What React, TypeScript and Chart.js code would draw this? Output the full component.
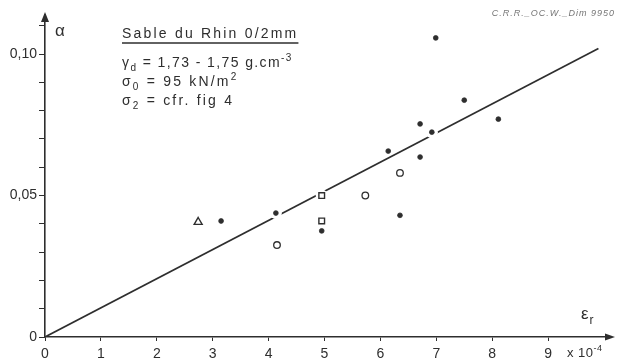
import React, { useEffect, useRef } from 'react';
import { Chart, registerables } from 'chart.js';

Chart.register(...registerables);

// Strain ε_r (×10⁻⁴) and damping α for Rhine sand 0/2 mm
const starX = [3.15, 4.13, 4.95, 6.14, 6.35, 6.71, 6.71, 6.92, 6.99, 7.5, 8.11];
const starY = [0.041, 0.0438, 0.0375, 0.0657, 0.043, 0.0753, 0.0636, 0.0724, 0.1057, 0.0837, 0.077];
const circleX = [4.15, 5.73, 6.35];
const circleY = [0.0325, 0.05, 0.058];
const squareX = [4.95, 4.95];
const squareY = [0.05, 0.041];
const triangleX = [2.74];
const triangleY = [0.0406];

// Fitted line through the origin
const fitX = [0, 9.9];
const fitY = [0, 0.102];

const xTicks = [0, 1, 2, 3, 4, 5, 6, 7, 8, 9];
const yTicks = [0, 0.01, 0.02, 0.03, 0.04, 0.05, 0.06, 0.07, 0.08, 0.09, 0.1, 0.11];
const yTickLabels: Record<string, string> = { '0': '0', '0.05': '0,05', '0.1': '0,10' };

const INK = '#2e2e2e';
const FONT = '"Liberation Sans", Arial, sans-serif';

type Seg = { t: string; sub?: boolean; sup?: boolean };

function drawSegs(ctx: CanvasRenderingContext2D, segs: Seg[], x: number, y: number, size: number, spacing: number) {
  let cx = x;
  for (const s of segs) {
    const sz = s.sub || s.sup ? Math.round(size * 0.72) : size;
    const dy = s.sub ? size * 0.28 : s.sup ? -size * 0.45 : 0;
    ctx.font = `${sz}px ${FONT}`;
    (ctx as any).letterSpacing = `${spacing}px`;
    ctx.fillText(s.t, cx, y + dy);
    cx += ctx.measureText(s.t).width;
  }
  (ctx as any).letterSpacing = '0px';
  return cx;
}

const decorations = {
  id: 'decorations',
  afterDraw(chart: Chart) {
    const { ctx, chartArea } = chart;
    const { left, right, top, bottom } = chartArea;
    ctx.save();
    ctx.fillStyle = INK;
    ctx.strokeStyle = INK;

    // axis arrowheads
    ctx.beginPath();
    ctx.moveTo(left, top - 3);
    ctx.lineTo(left - 4, top + 7);
    ctx.lineTo(left + 4, top + 7);
    ctx.closePath();
    ctx.fill();
    ctx.beginPath();
    ctx.moveTo(right + 4, bottom);
    ctx.lineTo(right - 6, bottom - 3.5);
    ctx.lineTo(right - 6, bottom + 3.5);
    ctx.closePath();
    ctx.fill();

    ctx.textBaseline = 'alphabetic';
    ctx.textAlign = 'left';

    // axis symbols
    ctx.font = `17px ${FONT}`;
    ctx.fillText('α', left + 10, top + 21);
    drawSegs(ctx, [{ t: 'ε' }, { t: 'r', sub: true }], right - 30, bottom - 18, 17, 1);
    drawSegs(ctx, [{ t: 'x 10' }, { t: '-4', sup: true }], left + 522, bottom + 20, 13, 0.5);

    // specimen description
    const tx = left + 77;
    const size = 14;
    const sp = 2.2;
    const endX = drawSegs(ctx, [{ t: 'Sable du Rhin 0/2mm' }], tx, top + 23, size, sp);
    ctx.lineWidth = 1.3;
    ctx.beginPath();
    ctx.moveTo(tx, top + 28);
    ctx.lineTo(endX, top + 28);
    ctx.stroke();
    drawSegs(ctx, [{ t: 'γ' }, { t: 'd', sub: true }, { t: ' = 1,73 - 1,75 g.cm' }, { t: '-3', sup: true }], tx, top + 52, size, 1.4);
    drawSegs(ctx, [{ t: 'σ' }, { t: '0', sub: true }, { t: ' = 95 kN/m' }, { t: '2', sup: true }], tx, top + 71, size, sp);
    drawSegs(ctx, [{ t: 'σ' }, { t: '2', sub: true }, { t: ' = cfr. fig 4' }], tx, top + 90, size, sp);

    // drawing reference
    ctx.fillStyle = '#777';
    ctx.font = `italic 9px ${FONT}`;
    (ctx as any).letterSpacing = '1px';
    ctx.textAlign = 'right';
    ctx.fillText('C.R.R._OC.W._Dim 9950', 615, 16);
    ctx.restore();
  },
};

function pts(xs: number[], ys: number[]) {
  return xs.map((x, i) => ({ x, y: ys[i] }));
}

export default function App() {
  const ref = useRef<HTMLCanvasElement>(null);

  useEffect(() => {
    if (!ref.current) return;
    const halos = [
      { x: starX[1], y: starY[1] },
      { x: squareX[0], y: squareY[0] },
      { x: starX[7], y: starY[7] },
    ];
    const chart = new Chart(ref.current, {
      type: 'scatter',
      data: {
        datasets: [
          {
            data: pts(starX, starY),
            pointStyle: 'circle',
            pointRadius: 2.4,
            pointBackgroundColor: INK,
            pointBorderColor: INK,
            pointBorderWidth: 0.8,
            order: 0,
          },
          {
            data: pts(circleX, circleY),
            pointStyle: 'circle',
            pointRadius: 3.3,
            pointBackgroundColor: '#fff',
            pointBorderColor: INK,
            pointBorderWidth: 1.3,
            order: 0,
          },
          {
            data: pts(squareX, squareY),
            pointStyle: 'rect',
            pointRadius: 4,
            pointBackgroundColor: '#fff',
            pointBorderColor: INK,
            pointBorderWidth: 1.4,
            order: 0,
          },
          {
            data: pts(triangleX, triangleY),
            pointStyle: 'triangle',
            pointRadius: 4.6,
            pointBackgroundColor: '#fff',
            pointBorderColor: INK,
            pointBorderWidth: 1.4,
            order: 0,
          },
          {
            data: halos,
            pointStyle: 'circle',
            pointRadius: 6,
            pointBackgroundColor: '#fff',
            pointBorderWidth: 0,
            order: 1,
          },
          {
            data: pts(fitX, fitY),
            showLine: true,
            borderColor: INK,
            borderWidth: 1.7,
            pointRadius: 0,
            order: 2,
          },
        ],
      },
      options: {
        animation: false,
        responsive: false,
        layout: { padding: { top: 15, right: 5, left: 0, bottom: 0 } },
        plugins: { legend: { display: false }, tooltip: { enabled: false } },
        scales: {
          x: {
            type: 'linear',
            min: 0,
            max: 10.125,
            afterFit: (s: any) => { s.height = 26; },
            afterBuildTicks: (s: any) => { s.ticks = xTicks.map((v) => ({ value: v })); },
            ticks: {
              color: INK,
              font: { family: FONT, size: 14 },
              padding: 5,
              maxRotation: 0,
              autoSkip: false,
              callback: (v: any) => String(v),
            },
            grid: { drawOnChartArea: false, tickLength: 4, color: INK, lineWidth: 1 },
            border: { display: true, color: INK, width: 1.6 },
          },
          y: {
            type: 'linear',
            min: 0,
            max: 0.1138,
            afterFit: (s: any) => { s.width = 45; },
            afterBuildTicks: (s: any) => { s.ticks = yTicks.map((v) => ({ value: v })); },
            ticks: {
              color: INK,
              font: { family: FONT, size: 14 },
              padding: 2,
              autoSkip: false,
              callback: (v: any) => yTickLabels[String(Math.round(v * 100) / 100)] ?? '',
            },
            grid: { drawOnChartArea: false, tickLength: 6, color: INK, lineWidth: 1 },
            border: { display: true, color: INK, width: 1.6 },
          },
        },
      },
      plugins: [decorations],
    });
    return () => chart.destroy();
  }, []);

  return (
    <div style={{ position: 'fixed', left: 0, top: 0, width: 617, height: 363, background: '#fff' }}>
      <canvas ref={ref} width={617} height={363} style={{ display: 'block' }} />
    </div>
  );
}
